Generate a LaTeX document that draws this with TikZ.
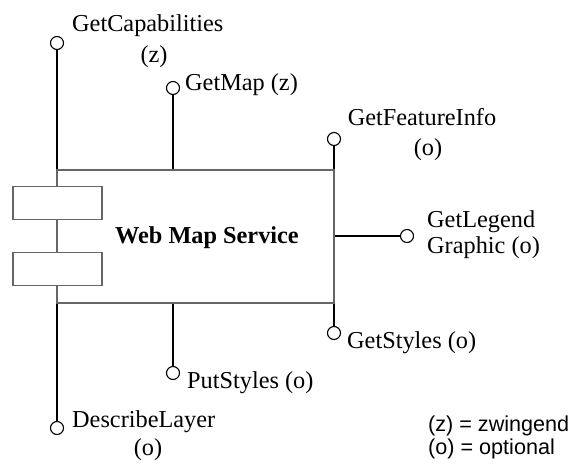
\documentclass[tikz,border=0pt]{standalone}
\usepackage{fontspec}
\setmainfont{Liberation Serif}
\newfontfamily\legendfont{Liberation Sans}
\begin{document}
\begin{tikzpicture}[x=1pt,y=-1pt,
  frame/.style={draw=black!60, line width=1.3pt, inner sep=0pt},
  stem/.style={draw=black, line width=1.8pt},
  port/.style={circle, draw=black, line width=1.1pt, fill=white, minimum size=13pt, inner sep=0pt},
  lbl/.style={inner sep=0pt, font=\fontsize{24.3}{30}\selectfont},
  leg/.style={inner sep=0pt, anchor=base west, font=\legendfont\fontsize{21.6}{26}\selectfont},
  smallbox/.style={draw=black!60, line width=1.3pt, fill=white, minimum width=89pt, minimum height=33pt, inner sep=0pt}]
\useasboundingbox (0,0) rectangle (574,464);
\node[frame, minimum width=277pt, minimum height=133pt] (wms) at (195.5,236.5) {};
\node[smallbox] (b1) at (57.5,203) {};
\node[smallbox] (b2) at (57.5,269) {};
\node[lbl, anchor=base west, font=\bfseries\fontsize{24.3}{30}\selectfont] (title) at (115,243) {Web Map Service};
% ports
\node[port] (capc) at (57,43) {};
\node[port] (mapc) at (173,88) {};
\node[port] (fic) at (334,139) {};
\node[port] (lgc) at (407,236) {};
\node[port] (gsc) at (334,333) {};
\node[port] (psc) at (173,373) {};
\node[port] (dlc) at (57,428) {};
% stems
\draw[stem] (capc) -- (capc |- wms.north);
\draw[stem] (mapc) -- (mapc |- wms.north);
\draw[stem] (fic) -- (fic |- wms.north);
\draw[stem] (lgc) -- (lgc -| wms.east);
\draw[stem] (gsc) -- (gsc |- wms.south);
\draw[stem] (psc) -- (psc |- wms.south);
\draw[stem] (dlc) -- (dlc |- wms.south);
% labels
\node[lbl, anchor=base west] (l1) at (72,31) {GetCapabilities};
\node[lbl, anchor=base] (l1b) at (154,62) {(z)};
\node[lbl, anchor=base west] (l2) at (185,90) {GetMap (z)};
\node[lbl, anchor=base] (l3) at (422,125) {GetFeatureInfo};
\node[lbl, anchor=base] (l3b) at (428,155) {(o)};
\node[lbl, anchor=base west] (l4) at (427,227) {GetLegend};
\node[lbl, anchor=base west] (l4b) at (427,253) {Graphic (o)};
\node[lbl, anchor=base west] (l5) at (347,348) {GetStyles (o)};
\node[lbl, anchor=base west] (l6) at (187,388) {PutStyles (o)};
\node[lbl, anchor=base west] (l7) at (72,427) {DescribeLayer};
\node[lbl, anchor=base] (l7b) at (148,455) {(o)};
\node[leg] (g1) at (428,431) {(z) = zwingend};
\node[leg] (g2) at (428,454) {(o) = optional};
\end{tikzpicture}
\end{document}
